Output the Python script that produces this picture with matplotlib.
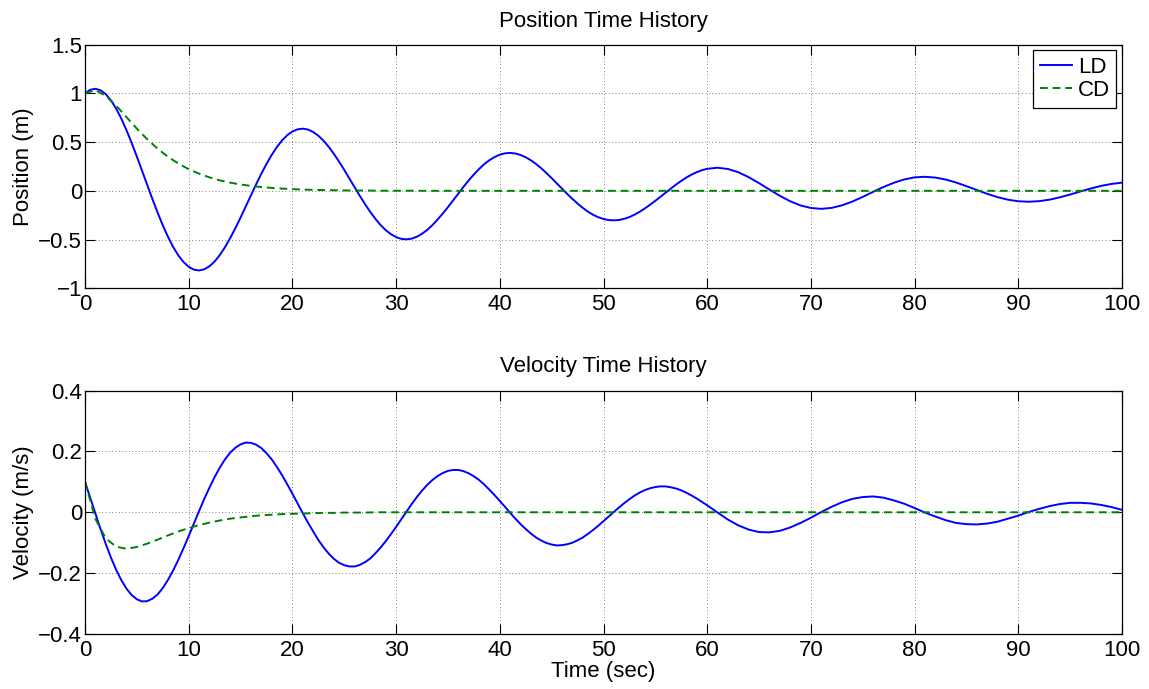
import matplotlib
matplotlib.use("Agg")
import matplotlib.pyplot as plt
import matplotlib.ticker as ticker
import numpy as np

plt.rcParams['font.family'] = ['Liberation Sans', 'DejaVu Sans']

################################
# data
################################

# LD curves: read every 0.5 s up to 60 s, then every 1 s
t_ld = np.concatenate([np.arange(0, 60, 0.5), np.arange(60, 101)])
# CD curves: read every 1 s
t_cd = np.arange(0, 101)

pos_ld = [
    1.000, 1.037, 1.047, 1.032, 0.992, 0.928, 0.844, 0.741, 0.622, 0.491,
    0.351, 0.206, 0.059, -0.085, -0.224, -0.354, -0.472, -0.576, -0.663, -0.731,
    -0.780, -0.809, -0.817, -0.805, -0.774, -0.725, -0.658, -0.578, -0.485, -0.383,
    -0.274, -0.160, -0.046, 0.067, 0.175, 0.276, 0.368, 0.449, 0.517, 0.571,
    0.609, 0.631, 0.638, 0.629, 0.604, 0.565, 0.514, 0.451, 0.379, 0.299,
    0.214, 0.125, 0.036, -0.052, -0.136, -0.216, -0.287, -0.351, -0.404, -0.445,
    -0.475, -0.493, -0.498, -0.491, -0.471, -0.441, -0.401, -0.352, -0.295, -0.233,
    -0.167, -0.098, -0.028, 0.041, 0.107, 0.168, 0.224, 0.274, 0.315, 0.347,
    0.371, 0.385, 0.389, 0.383, 0.368, 0.344, 0.313, 0.275, 0.231, 0.182,
    0.130, 0.076, 0.022, -0.032, -0.083, -0.131, -0.175, -0.214, -0.246, -0.271,
    -0.289, -0.300, -0.303, -0.299, -0.287, -0.269, -0.244, -0.214, -0.180, -0.142,
    -0.102, -0.060, -0.017, 0.025, 0.065, 0.102, 0.137, 0.167, 0.192, 0.212,
    0.226, 0.237, 0.224, 0.191, 0.140, 0.079, 0.013, -0.051, -0.107, -0.150,
    -0.176, -0.185, -0.175, -0.149, -0.110, -0.062, -0.010, 0.039, 0.083, 0.117,
    0.138, 0.144, 0.136, 0.116, 0.085, 0.048, 0.008, -0.031, -0.065, -0.091,
    -0.107, -0.112, -0.106, -0.091, -0.067, -0.038, -0.006, 0.024, 0.051, 0.071,
    0.084]

vel_ld = [
    0.100, 0.048, -0.005, -0.056, -0.104, -0.149, -0.189, -0.223, -0.251, -0.272,
    -0.286, -0.293, -0.292, -0.284, -0.270, -0.249, -0.222, -0.191, -0.156, -0.118,
    -0.078, -0.037, 0.004, 0.044, 0.081, 0.116, 0.147, 0.174, 0.196, 0.212,
    0.223, 0.229, 0.228, 0.222, 0.211, 0.194, 0.174, 0.149, 0.122, 0.092,
    0.061, 0.029, -0.003, -0.034, -0.063, -0.091, -0.115, -0.136, -0.153, -0.166,
    -0.174, -0.178, -0.178, -0.173, -0.164, -0.152, -0.135, -0.116, -0.095, -0.072,
    -0.048, -0.023, 0.002, 0.027, 0.050, 0.071, 0.090, 0.106, 0.119, 0.129,
    0.136, 0.139, 0.139, 0.135, 0.128, 0.118, 0.106, 0.091, 0.074, 0.056,
    0.037, 0.018, -0.002, -0.021, -0.039, -0.055, -0.070, -0.083, -0.093, -0.101,
    -0.106, -0.109, -0.108, -0.105, -0.100, -0.092, -0.083, -0.071, -0.058, -0.044,
    -0.029, -0.014, 0.001, 0.016, 0.030, 0.043, 0.055, 0.065, 0.073, 0.079,
    0.083, 0.085, 0.085, 0.082, 0.078, 0.072, 0.064, 0.055, 0.045, 0.034,
    0.023, -0.001, -0.024, -0.043, -0.057, -0.065, -0.066, -0.061, -0.050, -0.035,
    -0.018, 0.001, 0.018, 0.033, 0.044, 0.050, 0.052, 0.048, 0.039, 0.028,
    0.014, -0.001, -0.014, -0.026, -0.035, -0.039, -0.040, -0.037, -0.031, -0.021,
    -0.011, 0.001, 0.011, 0.020, 0.027, 0.031, 0.031, 0.029, 0.024, 0.017,
    0.008]

pos_cd = [
    1.000, 1.033, 0.975, 0.874, 0.756, 0.638, 0.529, 0.432, 0.349, 0.280,
    0.222, 0.176, 0.138, 0.107, 0.084, 0.065, 0.050, 0.039, 0.030, 0.023,
    0.017, 0.013, 0.010, 0.008, 0.006, 0.004, 0.003, 0.003, 0.002, 0.001,
    0.001, 0.001, 0.001, 0.0, 0.0, 0.0, 0.0, 0.0, 0.0, 0.0,
    0.0, 0.0, 0.0, 0.0, 0.0, 0.0, 0.0, 0.0, 0.0, 0.0,
    0.0, 0.0, 0.0, 0.0, 0.0, 0.0, 0.0, 0.0, 0.0, 0.0,
    0.0, 0.0, 0.0, 0.0, 0.0, 0.0, 0.0, 0.0, 0.0, 0.0,
    0.0, 0.0, 0.0, 0.0, 0.0, 0.0, 0.0, 0.0, 0.0, 0.0,
    0.0, 0.0, 0.0, 0.0, 0.0, 0.0, 0.0, 0.0, 0.0, 0.0,
    0.0, 0.0, 0.0, 0.0, 0.0, 0.0, 0.0, 0.0, 0.0, 0.0,
    0.0]

vel_cd = [
    0.100, -0.022, -0.086, -0.113, -0.120, -0.114, -0.103, -0.090, -0.076, -0.063,
    -0.052, -0.042, -0.034, -0.027, -0.021, -0.017, -0.013, -0.010, -0.008, -0.006,
    -0.005, -0.004, -0.003, -0.002, -0.002, -0.001, -0.001, -0.001, 0.0, 0.0,
    0.0, 0.0, 0.0, 0.0, 0.0, 0.0, 0.0, 0.0, 0.0, 0.0,
    0.0, 0.0, 0.0, 0.0, 0.0, 0.0, 0.0, 0.0, 0.0, 0.0,
    0.0, 0.0, 0.0, 0.0, 0.0, 0.0, 0.0, 0.0, 0.0, 0.0,
    0.0, 0.0, 0.0, 0.0, 0.0, 0.0, 0.0, 0.0, 0.0, 0.0,
    0.0, 0.0, 0.0, 0.0, 0.0, 0.0, 0.0, 0.0, 0.0, 0.0,
    0.0, 0.0, 0.0, 0.0, 0.0, 0.0, 0.0, 0.0, 0.0, 0.0,
    0.0, 0.0, 0.0, 0.0, 0.0, 0.0, 0.0, 0.0, 0.0, 0.0,
    0.0]

x_ticks = [0, 10, 20, 30, 40, 50, 60, 70, 80, 90, 100]
pos_ticks = [-1, -0.5, 0, 0.5, 1, 1.5]
vel_ticks = [-0.4, -0.2, 0, 0.2, 0.4]

FS = 16

################################
# matlab-ish axes styling
################################

def matlab_fmt(v, pos):
    return ('%g' % round(v, 3)).replace('-', '\u2212')

def style_axes(ax, yticks, ylabel, title):
    ax.set_xlim(0, 100)
    ax.set_ylim(yticks[0], yticks[-1])
    ax.set_xticks(x_ticks)
    ax.set_yticks(yticks)
    ax.yaxis.set_major_formatter(ticker.FuncFormatter(matlab_fmt))
    ax.tick_params(direction='in', top=True, right=True, length=7,
                   width=0.8, labelsize=FS)
    ax.tick_params(axis='x', pad=4)
    ax.tick_params(axis='y', pad=2)
    ax.grid(True, color='0.35', linestyle=(0, (1, 3)), linewidth=0.6)
    ax.set_axisbelow(True)
    for s in ax.spines.values():
        s.set_linewidth(0.9)
    ax.set_ylabel(ylabel, fontsize=FS, labelpad=3)
    ax.set_title(title, fontsize=FS, pad=13)


fig = plt.figure(figsize=(11.49, 6.89), dpi=100)
ax1 = fig.add_axes([0.074, 0.5816, 0.9025, 0.3536])
ax2 = fig.add_axes([0.074, 0.0798, 0.9025, 0.3534])

ld_style = dict(color=(0, 0, 1), linewidth=1.4)
cd_style = dict(color=(0, 0.5, 0), linewidth=1.4, linestyle=(0, (4, 2.5)))

ax1.plot(t_ld, pos_ld, label='LD', **ld_style)
ax1.plot(t_cd, pos_cd, label='CD', **cd_style)
style_axes(ax1, pos_ticks, 'Position (m)', 'Position Time History')
leg = ax1.legend(loc='upper right', fontsize=FS, fancybox=False, framealpha=1,
                 edgecolor='black', handlelength=1.45, handletextpad=0.25,
                 borderaxespad=0.25, borderpad=0.3, labelspacing=0.1)
leg.get_frame().set_linewidth(0.9)

ax2.plot(t_ld, vel_ld, **ld_style)
ax2.plot(t_cd, vel_cd, **cd_style)
style_axes(ax2, vel_ticks, 'Velocity (m/s)', 'Velocity Time History')
ax2.set_xlabel('Time (sec)', fontsize=FS, labelpad=0)

fig.savefig('out.png', dpi=100)
